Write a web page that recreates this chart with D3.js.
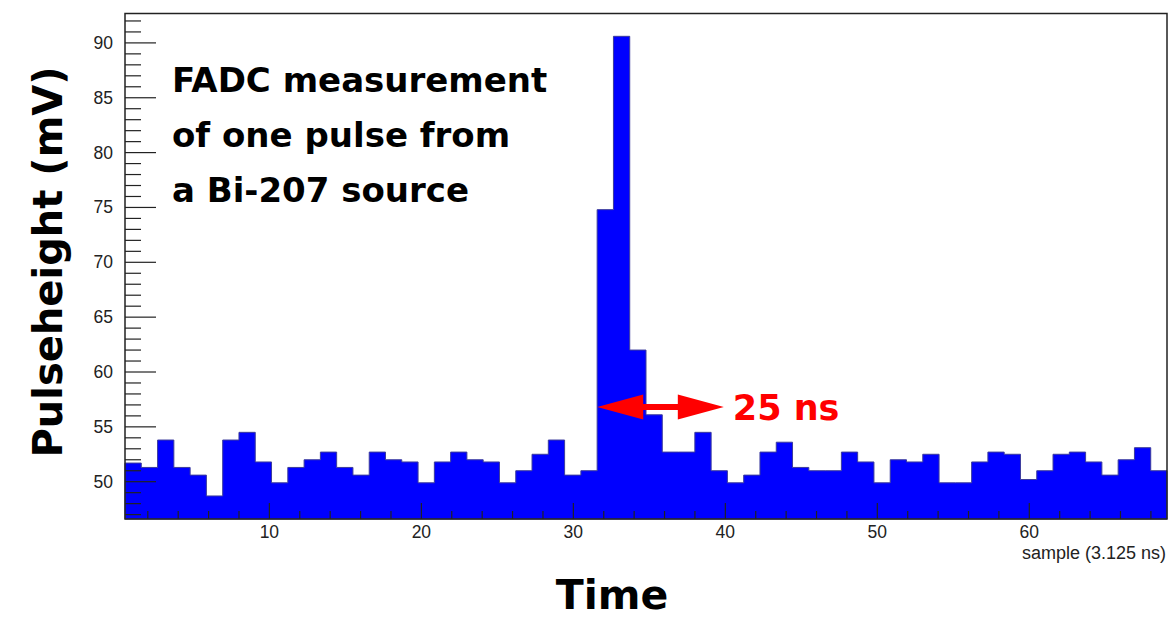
<!DOCTYPE html>
<html lang="en">
<head>
    <meta charset="UTF-8">
    <title>FADC pulse</title>
    <style type="text/css">
        body {
            margin: 0;
            background: #fff;
        }
        svg {
            display: block;
        }
        .tick-label {
            font-family: "Liberation Sans", Arial, sans-serif;
            font-size: 17.5px;
            fill: #222;
        }
        .big {
            font-family: "Comic Sans MS", "DejaVu Sans", sans-serif;
            font-weight: bold;
        }
    </style>
</head>
<body>
    <div id="chart"></div>
    <script src="https://cdnjs.cloudflare.com/ajax/libs/d3/7.8.5/d3.min.js"></script>
    <script type="text/javascript">
        // pulse height per FADC sample (mV), 64 bins
        var pulse = [
            51.7, 51.3, 53.8, 51.3, 50.6, 48.7, 53.8, 54.5, 51.8, 49.9,
            51.3, 52.0, 52.7, 51.3, 50.6, 52.7, 52.0, 51.8, 49.9, 51.8,
            52.7, 52.0, 51.8, 49.9, 51.0, 52.5, 53.8, 50.6, 51.0, 74.8,
            90.6, 62.0, 56.1, 52.7, 52.7, 54.5, 51.0, 49.9, 50.6, 52.7,
            53.6, 51.3, 51.0, 51.0, 52.7, 51.8, 49.9, 52.0, 51.8, 52.5,
            49.9, 49.9, 51.8, 52.7, 52.5, 50.2, 51.0, 52.5, 52.7, 51.8,
            50.6, 52.0, 53.1, 51.0
        ];
        var xRange = [0.5, 69.06];
        var yRange = [46.6, 92.68];
        var xMajor = [10, 20, 30, 40, 50, 60];
        var yMajor = [50, 55, 60, 65, 70, 75, 80, 85, 90];
        var titleLines = ["FADC measurement", "of one pulse from", "a Bi-207 source"];
        // arrow: from, to (sample units), at height (mV)
        var arrowSpan = [31.57, 39.9];
        var arrowLevel = 56.8;

        var width = 1168, height = 618;
        var frame = { left: 125, right: 1167, top: 13.5, bottom: 519 };

        var svg = d3.select("#chart").append("svg")
            .attr("width", width)
            .attr("height", height);

        var x = d3.scaleLinear().domain(xRange).range([frame.left, frame.right]);
        var y = d3.scaleLinear().domain(yRange).range([frame.bottom, frame.top]);

        var nb = pulse.length;
        var binW = (xRange[1] - xRange[0]) / nb;
        var bins = pulse.map((v, i) => ({ x0: xRange[0] + i * binW, x1: xRange[0] + (i + 1) * binW, v: v }));

        // histogram: filled area + outline
        var pts = [[bins[0].x0, yRange[0]]];
        bins.forEach(b => { pts.push([b.x0, b.v]); pts.push([b.x1, b.v]); });
        pts.push([bins[nb - 1].x1, yRange[0]]);

        var line = d3.line().x(d => x(d[0])).y(d => y(Math.max(d[1], yRange[0])));
        svg.append("path")
            .attr("d", line(pts) + "Z")
            .attr("fill", "#0000ff")
            .attr("stroke", "#3c3c9c")
            .attr("stroke-width", 1);

        // frame
        svg.append("rect")
            .attr("x", frame.left).attr("y", frame.top)
            .attr("width", frame.right - frame.left)
            .attr("height", frame.bottom - frame.top)
            .attr("fill", "none")
            .attr("stroke", "#222")
            .attr("stroke-width", 1.5);

        // y axis ticks, drawn inward
        var yMinor = d3.range(Math.ceil(yRange[0]), Math.floor(yRange[1]) + 1);
        svg.append("g").selectAll("line").data(yMinor).join("line")
            .attr("x1", frame.left)
            .attr("x2", d => frame.left + (d % 5 === 0 ? 31 : 16))
            .attr("y1", d => y(d)).attr("y2", d => y(d))
            .attr("stroke", "#222").attr("stroke-width", 1.2);
        svg.append("g").selectAll("text").data(yMajor).join("text")
            .attr("class", "tick-label")
            .attr("x", frame.left - 12)
            .attr("y", d => y(d) + 6)
            .attr("text-anchor", "end")
            .text(d => d);

        // x axis ticks, drawn upward
        var xMinor = d3.range(2, xRange[1], 2);
        svg.append("g").selectAll("line").data(xMinor).join("line")
            .attr("x1", d => x(d)).attr("x2", d => x(d))
            .attr("y1", frame.bottom)
            .attr("y2", d => frame.bottom - (d % 10 === 0 ? 16 : 8))
            .attr("stroke", "#222").attr("stroke-width", 1.2);
        svg.append("g").selectAll("text").data(xMajor).join("text")
            .attr("class", "tick-label")
            .attr("x", d => x(d))
            .attr("y", frame.bottom + 19)
            .attr("text-anchor", "middle")
            .text(d => d);

        svg.append("text")
            .attr("class", "tick-label")
            .attr("x", frame.right - 1)
            .attr("y", 559)
            .attr("text-anchor", "end")
            .style("font-size", "18px")
            .text("sample (3.125 ns)");

        // axis titles
        svg.append("text")
            .attr("class", "big")
            .attr("transform", "translate(62,262) rotate(-90)")
            .attr("text-anchor", "middle")
            .style("font-size", "40px")
            .attr("fill", "#000")
            .text("Pulseheight (mV)");

        svg.append("text")
            .attr("class", "big")
            .attr("x", 612).attr("y", 609)
            .attr("text-anchor", "middle")
            .style("font-size", "41px")
            .attr("fill", "#000")
            .text("Time");

        // caption
        svg.append("g").selectAll("text").data(titleLines).join("text")
            .attr("class", "big")
            .attr("x", 172)
            .attr("y", (d, i) => 92 + i * 55)
            .style("font-size", "34px")
            .attr("fill", "#000")
            .text(d => d);

        // red double arrow
        var ax0 = x(arrowSpan[0]), ax1 = x(arrowSpan[1]), ay = y(arrowLevel);
        var head = 46, hw = 12.5, shaft = 3;
        svg.append("path")
            .attr("d", [
                "M", ax0, ay,
                "L", ax0 + head, ay - hw,
                "L", ax0 + head, ay - shaft,
                "L", ax1 - head, ay - shaft,
                "L", ax1 - head, ay - hw,
                "L", ax1, ay,
                "L", ax1 - head, ay + hw,
                "L", ax1 - head, ay + shaft,
                "L", ax0 + head, ay + shaft,
                "L", ax0 + head, ay + hw,
                "Z"].join(" "))
            .attr("fill", "#ff0000");

        svg.append("text")
            .attr("class", "big")
            .attr("x", ax1 + 9).attr("y", ay + 13)
            .style("font-size", "35px")
            .attr("fill", "#ff0000")
            .text("25 ns");
    </script>
</body>
</html>
